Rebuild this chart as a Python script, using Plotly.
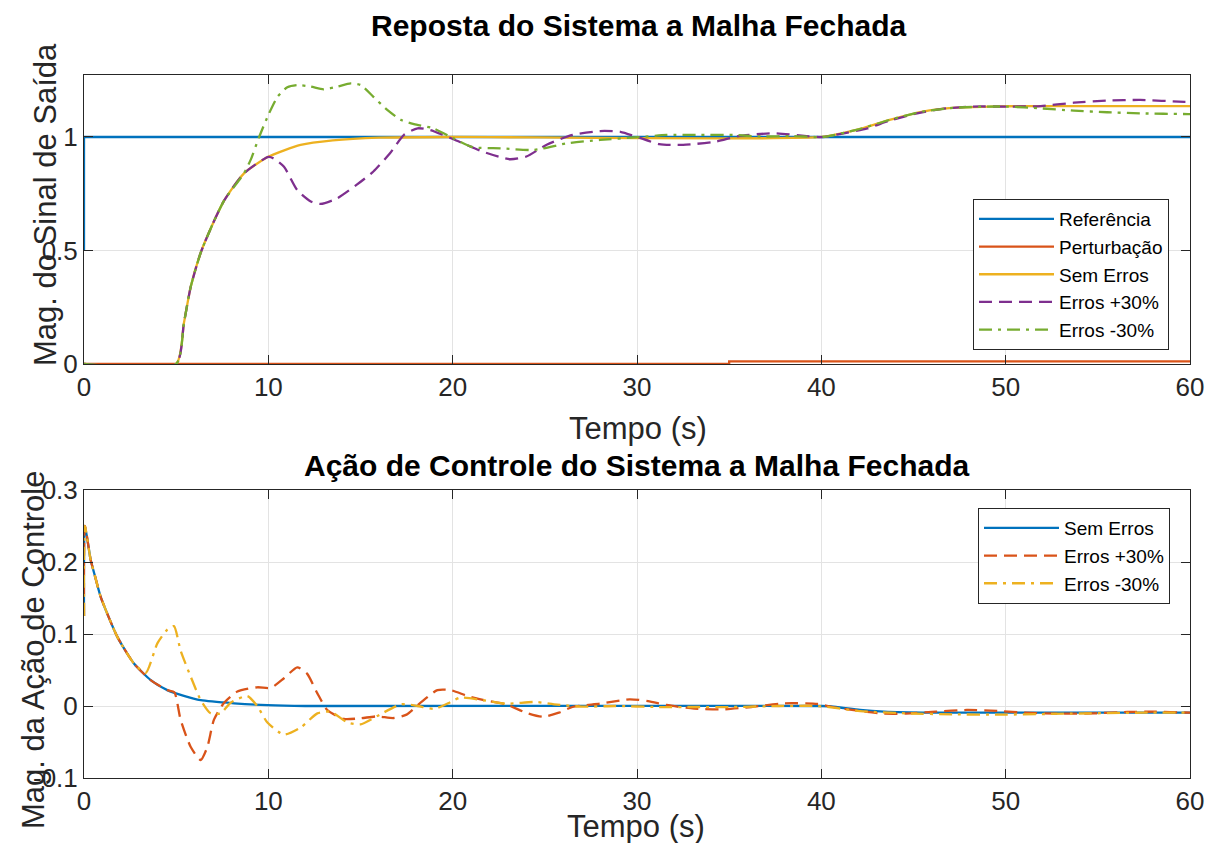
import plotly.graph_objects as go

# ---------------- Top plot data: output response ----------------
t_ref = [0, 0, 60]
ref = [0.5, 1.0, 1.0]

t_pert = [0, 35, 35, 60]
pert = [0, 0, 0.012, 0.012]

t_sem = [0, 5, 5.42, 5.79, 6.33, 7.0, 7.6, 8.68, 10.0, 11.75, 13.5, 16.0, 20.0, 40.0,
         41.9, 43.7, 45.5, 47.3, 49.1, 51.0, 60]
y_sem = [0, 0, 0.18, 0.34, 0.49, 0.62, 0.72, 0.84, 0.913, 0.965, 0.985, 0.997, 1.0, 1.0,
         1.031, 1.075, 1.112, 1.129, 1.134, 1.136, 1.136]

t_p30 = [0, 5, 5.42, 5.79, 6.33, 7.0, 7.6, 8.68, 10.0, 10.3, 10.85, 11.57, 12.3, 12.84, 13.74,
         14.8, 15.7, 16.6, 17.36, 18.1, 18.77, 20.04, 21.65, 23.1, 24.0, 25.1, 26.5, 28.0,
         29.1, 30.04, 31.2, 32.5, 34.3, 35.5, 37.4, 39.2, 40.06, 41.0, 42.5, 43.7, 45.2,
         46.8, 48.2, 50.06, 51.9, 53.7, 55.5, 57.3, 59.7, 60]
y_p30 = [0, 0, 0.18, 0.34, 0.49, 0.62, 0.72, 0.84, 0.912, 0.905, 0.869, 0.766, 0.716, 0.705, 0.73,
         0.79, 0.848, 0.928, 1.009, 1.038, 1.031, 0.99, 0.935, 0.902, 0.914, 0.966, 1.009, 1.026,
         1.023, 0.999, 0.969, 0.965, 0.98, 1.004, 1.016, 1.004, 0.999, 1.013, 1.038, 1.072, 1.104,
         1.126, 1.134, 1.134, 1.136, 1.151, 1.16, 1.163, 1.155, 1.155]

t_m30 = [0, 5, 5.42, 5.79, 6.33, 7.0, 7.6, 8.68, 9.04, 9.5, 10.04, 10.5, 11.03, 11.57, 12.3,
         13.0, 13.74, 14.47, 15.0, 15.7, 16.45, 17.2, 17.9, 18.95, 20.04, 21.1, 22.6, 24.4,
         26.2, 28.0, 30.04, 31.6, 33.4, 35.2, 36.7, 38.5, 40.06, 41.9, 43.7, 45.5, 47.3, 49.1,
         50.06, 51.9, 53.7, 55.5, 57.3, 59.9, 60]
y_m30 = [0, 0, 0.18, 0.34, 0.49, 0.62, 0.72, 0.84, 0.899, 1.0, 1.104, 1.177, 1.219, 1.229, 1.222,
         1.21, 1.222, 1.236, 1.229, 1.177, 1.119, 1.075, 1.057, 1.038, 0.994, 0.955, 0.95, 0.943,
         0.972, 0.987, 0.999, 1.009, 1.009, 1.009, 1.002, 1.004, 1.0, 1.031, 1.075, 1.112, 1.129,
         1.134, 1.134, 1.126, 1.116, 1.109, 1.104, 1.101, 1.101]

# ---------------- Bottom plot data: control action ----------------
t_u_sem = [0, 0.05, 0.36, 0.6, 0.9, 1.81, 2.71, 3.62, 4.52, 5.42, 6.33, 8.14, 9.95, 12.0,
           40.0, 40.8, 42.1, 43.4, 45.9, 60]
u_sem = [0.125, 0.25, 0.203, 0.18, 0.152, 0.096, 0.059, 0.036, 0.022, 0.014, 0.008, 0.0037,
         0.0011, 0, 0, -0.0014, -0.0055, -0.0079, -0.0093, -0.0093]

t_u_p30 = [0, 0.05, 0.36, 0.6, 0.9, 1.81, 2.71, 3.62, 4.52, 4.9, 5.24, 5.79, 6.33, 6.69, 7.05,
           7.6, 8.32, 9.4, 10.13, 10.85, 11.57, 12.1, 12.66, 13.2, 14.1, 15.0, 15.9, 16.8, 17.5,
           18.26, 19.17, 19.9, 20.8, 21.7, 22.9, 23.97, 24.9, 25.76, 26.5, 28.0, 29.6, 30.6,
           31.6, 33.1, 34.7, 36.2, 37.99, 39.8, 40.8, 42.1, 43.4, 44.6, 46.2, 47.9, 49.7, 51.0,
           53.05, 54.8, 56.6, 58.1, 60]
u_p30 = [0.125, 0.25, 0.203, 0.18, 0.152, 0.096, 0.059, 0.036, 0.022, 0.019, -0.019, -0.057,
         -0.075, -0.057, -0.019, 0.0046, 0.0201, 0.026, 0.025, 0.0385, 0.0537, 0.045, 0.0176,
         -0.0056, -0.018, -0.017, -0.0144, -0.0167, -0.012, 0.0046, 0.022, 0.022, 0.0139, 0.008,
         0.0023, -0.0093, -0.015, -0.0093, -0.0014, 0.0032, 0.0093, 0.0069, 0.0014, -0.0037,
         -0.0046, -0.0014, 0.0037, 0.0028, -0.0023, -0.007, -0.0106, -0.0106, -0.0079, -0.0055,
         -0.007, -0.0093, -0.0106, -0.0102, -0.0083, -0.0079, -0.0093]

t_u_m30 = [0, 0.05, 0.36, 0.6, 0.9, 1.81, 2.71, 3.35, 3.98, 4.52, 4.88, 5.24, 5.79, 6.33, 6.87,
           7.41, 7.96, 8.86, 9.4, 9.95, 10.85, 11.75, 12.66, 13.38, 14.3, 15.0, 15.9, 17.2,
           18.1, 19.0, 19.9, 20.4, 21.9, 22.9, 24.5, 25.5, 27.0, 28.8, 31.1, 33.1, 35.2, 37.7,
           39.8, 42.1, 44.6, 47.2, 49.7, 53.5, 57.4, 60]
u_m30 = [0.125, 0.25, 0.203, 0.18, 0.152, 0.096, 0.059, 0.046, 0.087, 0.106, 0.111, 0.077,
         0.0407, 0.0083, -0.0102, -0.0102, 0.0046, 0.0139, 0, -0.023, -0.0398, -0.030, -0.0102,
         -0.0079, -0.023, -0.0255, -0.014, 0.0023, 0, -0.004, 0.0056, 0.0116, 0.007, 0.0032,
         0.0056, 0.0023, -0.0009, 0, -0.0014, -0.0014, -0.0014, 0, 0, -0.007, -0.0102, -0.0116,
         -0.012, -0.0106, -0.0093, -0.0093]

x_ticks = [0, 10, 20, 30, 40, 50, 60]
y1_ticks = [0, 0.5, 1]
y1_labels = ["0", "0.5", "1"]
y2_ticks = [-0.1, 0, 0.1, 0.2, 0.3]
y2_labels = ["-0.1", "0", "0.1", "0.2", "0.3"]

title_top = "Reposta do Sistema a Malha Fechada"
title_bot = "Ação de Controle do Sistema a Malha Fechada"
xlabel = "Tempo (s)"
ylabel_top = "Mag. do Sinal de Saída"
ylabel_bot = "Mag. da Ação de Controle"

C_BLUE, C_RED, C_YEL, C_PUR, C_GRN = "#0072BD", "#D95319", "#EDB120", "#7E2F8E", "#77AC30"
DASH = "13px,7px"
DASHDOT = "13px,6px,3px,6px"
LW = 2.3
FONT = "Liberation Sans, Arial, sans-serif"

fig = go.Figure()

def add(t, y, name, color, dash, xa, ya, legend, shape="spline"):
    fig.add_trace(go.Scatter(
        x=t, y=y, name=name, mode="lines", xaxis=xa, yaxis=ya, legend=legend,
        line=dict(color=color, width=LW, dash=dash, shape=shape, smoothing=0.6),
    ))

add(t_ref, ref, "Referência", C_BLUE, "solid", "x", "y", "legend", "linear")
add(t_pert, pert, "Perturbação", C_RED, "solid", "x", "y", "legend", "linear")
add(t_sem, y_sem, "Sem Erros", C_YEL, "solid", "x", "y", "legend")
add(t_p30, y_p30, "Erros +30%", C_PUR, DASH, "x", "y", "legend")
add(t_m30, y_m30, "Erros -30%", C_GRN, DASHDOT, "x", "y", "legend")

add(t_u_sem, u_sem, "Sem Erros", C_BLUE, "solid", "x2", "y2", "legend2")
add(t_u_p30, u_p30, "Erros +30%", C_RED, DASH, "x2", "y2", "legend2")
add(t_u_m30, u_m30, "Erros -30%", C_YEL, DASHDOT, "x2", "y2", "legend2")

ax_common = dict(
    showline=True, linecolor="#262626", linewidth=1, mirror="ticks",
    ticks="inside", ticklen=9, tickcolor="#262626", tickwidth=1,
    showgrid=True, gridcolor="#e3e3e3", gridwidth=1, zeroline=False,
    tickfont=dict(family=FONT, size=26, color="#262626"),
)

L, R, T, B = 84, 26, 75, 65
H = 843
ph = H - T - B
pw = 1216 - L - R
top_lo = (778 - 364) / ph

fig.update_layout(
    width=1216, height=843,
    margin=dict(l=L, r=R, t=T, b=B),
    paper_bgcolor="white", plot_bgcolor="white",
    font=dict(family=FONT, color="#262626"),
    showlegend=True,
    xaxis=dict(domain=[0, 1], anchor="y", range=[0, 60], tickvals=x_ticks, **ax_common),
    yaxis=dict(domain=[top_lo, 1], anchor="x", range=[0, 1.273], tickvals=y1_ticks,
               ticktext=y1_labels, **ax_common),
    xaxis2=dict(domain=[0, 1], anchor="y2", range=[0, 60], tickvals=x_ticks, **ax_common),
    yaxis2=dict(domain=[0, (778 - 490) / ph], anchor="x2", range=[-0.1, 0.3],
                tickvals=y2_ticks, ticktext=y2_labels, **ax_common),
    legend=dict(x=(1169 - L) / pw, y=(778 - 350) / ph, xanchor="right", yanchor="bottom",
                bgcolor="white", bordercolor="#262626", borderwidth=1,
                font=dict(family=FONT, size=19, color="#000000"),
                itemwidth=75, tracegroupgap=0),
    legend2=dict(x=(1170 - L) / pw, y=(778 - 508) / ph, xanchor="right", yanchor="top",
                 bgcolor="white", bordercolor="#262626", borderwidth=1,
                 font=dict(family=FONT, size=19, color="#000000"),
                 itemwidth=75, tracegroupgap=0),
)

ann = []
ann.append(dict(text="<b>" + title_top + "</b>", x=(638 - L) / pw, y=(778 - 25) / ph, xref="paper", yref="paper",
                showarrow=False, font=dict(family=FONT, size=30, color="#000000"),
                xanchor="center", yanchor="middle"))
ann.append(dict(text="<b>" + title_bot + "</b>", x=(636 - L) / pw, y=(778 - 465) / ph, xref="paper", yref="paper",
                showarrow=False, font=dict(family=FONT, size=30, color="#000000"),
                xanchor="center", yanchor="middle"))
ann.append(dict(text=xlabel, x=(638 - L) / pw, y=(778 - 428) / ph, xref="paper", yref="paper",
                showarrow=False, font=dict(family=FONT, size=31, color="#262626"),
                xanchor="center", yanchor="middle"))
ann.append(dict(text=xlabel, x=(636 - L) / pw, y=(778 - 826) / ph, xref="paper", yref="paper",
                showarrow=False, font=dict(family=FONT, size=31, color="#262626"),
                xanchor="center", yanchor="middle"))
ann.append(dict(text=ylabel_top, x=(45 - L) / pw, y=(778 - 205) / ph, xref="paper", yref="paper",
                showarrow=False, textangle=-90, font=dict(family=FONT, size=31, color="#262626"),
                xanchor="center", yanchor="middle"))
ann.append(dict(text=ylabel_bot, x=(33 - L) / pw, y=(778 - 650) / ph, xref="paper", yref="paper",
                showarrow=False, textangle=-90, font=dict(family=FONT, size=31, color="#262626"),
                xanchor="center", yanchor="middle"))
fig.update_layout(annotations=ann)

fig.write_html("out.html", config={"displayModeBar": False},
               post_script="document.body.style.margin='0';document.body.style.padding='0';")
